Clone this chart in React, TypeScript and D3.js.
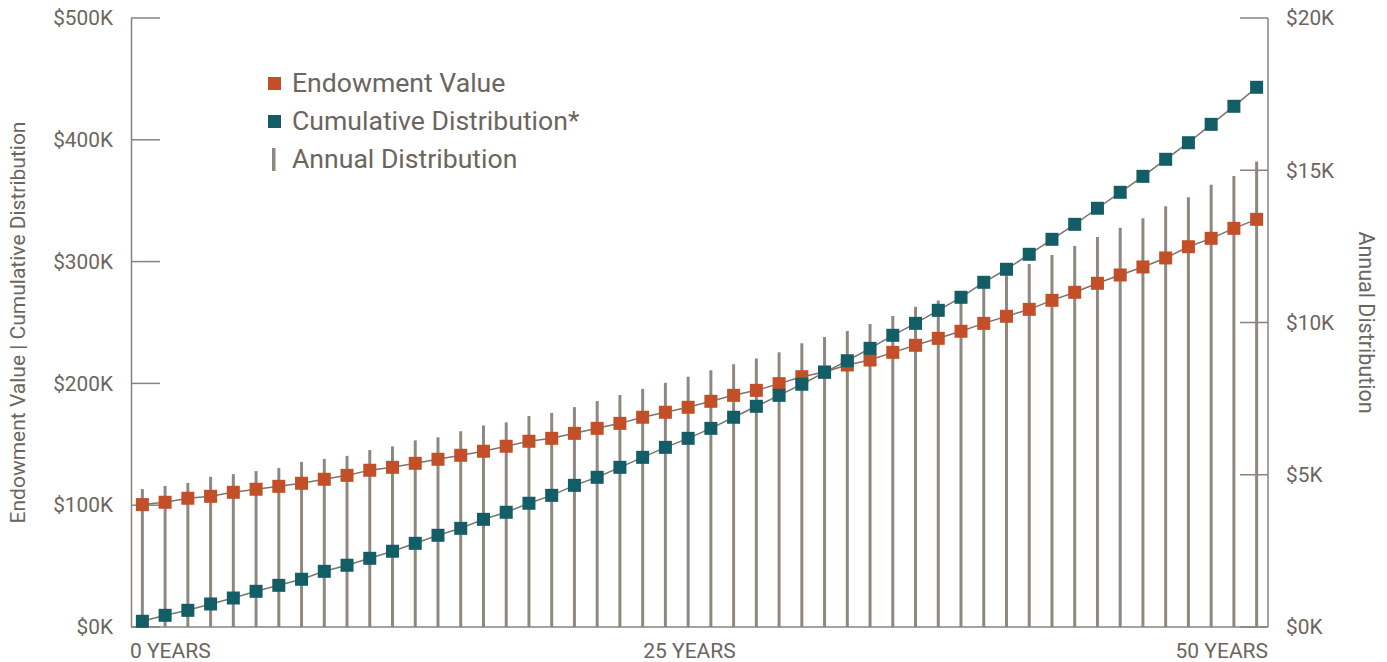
import React from "react";
import * as d3 from "d3";

// values in $K, one per year
const endowmentValue = [
  100.5, 102.4, 105.7, 107.3, 110.6, 113.1, 115.5, 118.0, 121.3, 124.5,
  128.7, 131.1, 134.4, 137.7, 141.0, 144.3, 148.4, 152.5, 154.9, 159.0,
  163.1, 167.2, 172.2, 176.3, 180.4, 185.3, 190.2, 194.3, 199.8, 205.5,
  209.4, 215.1, 219.2, 225.5, 231.3, 237.0, 242.8, 249.3, 255.1, 260.8,
  268.2, 274.8, 282.2, 289.0, 295.6, 303.0, 312.2, 319.1, 327.3, 334.7,
];

const cumulativeDistribution = [
  4.7, 9.6, 13.7, 18.9, 23.8, 29.3, 34.2, 39.2, 45.7, 50.7,
  56.4, 62.2, 68.7, 75.3, 81.0, 88.4, 94.2, 101.6, 108.1, 116.3,
  122.9, 131.1, 139.3, 147.5, 154.9, 163.1, 172.2, 181.2, 190.2, 199.3,
  209.1, 218.6, 228.8, 239.5, 249.3, 260.0, 270.7, 283.0, 293.7, 306.0,
  318.3, 330.6, 343.8, 356.9, 370.0, 384.0, 397.6, 412.7, 427.5, 443.1,
];

const annualDistribution = [
  4.53, 4.63, 4.73, 4.93, 5.02, 5.12, 5.22, 5.42, 5.52, 5.62,
  5.81, 5.93, 6.13, 6.23, 6.43, 6.62, 6.72, 6.93, 7.03, 7.22,
  7.42, 7.62, 7.82, 8.02, 8.22, 8.43, 8.63, 8.82, 9.02, 9.32,
  9.52, 9.72, 9.95, 10.21, 10.52, 10.72, 10.97, 11.23, 11.54, 11.92,
  12.22, 12.51, 12.81, 13.11, 13.42, 13.82, 14.11, 14.52, 14.81, 15.29,
];

const leftTicks = [0, 100, 200, 300, 400, 500];
const rightTicks = [0, 5, 10, 15, 20];
const xLabels = ["0 YEARS", "25 YEARS", "50 YEARS"];

const legendItems = [
  { label: "Endowment Value", kind: "square", color: "#c24f27" },
  { label: "Cumulative Distribution*", kind: "square", color: "#135d66" },
  { label: "Annual Distribution", kind: "bar", color: "#8f8881" },
];

const W = 1387;
const H = 662;
const font = "Roboto, 'Noto Sans', sans-serif";
const textColor = "#6c655e";
const axisColor = "#8a837b";

export default function App() {
  const years = endowmentValue.map((_, i) => i);
  const left = 131;
  const right = 1268;
  const top = 18;
  const bottom = 627;

  const x = d3.scaleBand<number>().domain(years).range([left, right]);
  const cx = (i: number) => (x(i) as number) + x.bandwidth() / 2;
  const yL = d3.scaleLinear().domain([0, 500]).range([bottom, top]);
  const yR = d3.scaleLinear().domain([0, 20]).range([bottom, top]);

  const line = (vals: number[]) =>
    d3
      .line<number>()
      .x((_, i) => cx(i))
      .y((d) => yL(d))(vals) as string;

  const sq = 13;

  return (
    <svg
      width={W}
      height={H}
      style={{ position: "absolute", left: 0, top: 0, fontFamily: font }}
    >
      <rect width={W} height={H} fill="#fff" />

      {/* annual distribution bars (right axis) */}
      {annualDistribution.map((v, i) => (
        <line
          key={"b" + i}
          x1={cx(i)}
          x2={cx(i)}
          y1={yR(0)}
          y2={yR(v)}
          stroke="#8f8881"
          strokeWidth={3}
        />
      ))}

      {/* axes */}
      <line x1={left + 0.5} x2={left + 0.5} y1={top} y2={bottom} stroke={axisColor} strokeWidth={1.5} />
      <line x1={right} x2={right} y1={top} y2={bottom} stroke={axisColor} strokeWidth={1.5} />
      <line x1={left} x2={right} y1={bottom} y2={bottom} stroke={axisColor} strokeWidth={1.5} />
      {leftTicks.map((t) => (
        <g key={"l" + t}>
          <line x1={left} x2={left + 29} y1={yL(t)} y2={yL(t)} stroke={axisColor} strokeWidth={1.5} />
          <text x={113} y={yL(t)} dy="0.35em" textAnchor="end" fontSize={20.8} fill={textColor}>
            ${t}K
          </text>
        </g>
      ))}
      {rightTicks.map((t) => (
        <g key={"r" + t}>
          <line x1={right - 28} x2={right} y1={yR(t)} y2={yR(t)} stroke={axisColor} strokeWidth={1.5} />
          <text x={1286} y={yR(t)} dy="0.35em" textAnchor="start" fontSize={20.8} fill={textColor}>
            ${t}K
          </text>
        </g>
      ))}

      {/* x labels */}
      <text x={left - 1} y={658} fontSize={21} fill={textColor} textAnchor="start">
        {xLabels[0]}
      </text>
      <text x={(left + right) / 2 - 10} y={658} fontSize={21} fill={textColor} textAnchor="middle">
        {xLabels[1]}
      </text>
      <text x={right} y={658} fontSize={21} fill={textColor} textAnchor="end">
        {xLabels[2]}
      </text>

      {/* axis titles */}
      <text
        transform={`translate(25,${(top + bottom) / 2}) rotate(-90)`}
        textAnchor="middle"
        fontSize={21}
        fill={textColor}
      >
        Endowment Value | Cumulative Distribution
      </text>
      <text
        transform={`translate(1359,${(top + bottom) / 2}) rotate(90)`}
        textAnchor="middle"
        fontSize={21.5}
        fill={textColor}
      >
        Annual Distribution
      </text>

      {/* endowment value */}
      <path d={line(endowmentValue)} fill="none" stroke="#7b746c" strokeWidth={1.5} />
      {endowmentValue.map((v, i) => (
        <rect key={"e" + i} x={cx(i) - sq / 2} y={yL(v) - sq / 2} width={sq} height={sq} fill="#c24f27" />
      ))}

      {/* cumulative distribution */}
      <path d={line(cumulativeDistribution)} fill="none" stroke="#7b746c" strokeWidth={1.5} />
      {cumulativeDistribution.map((v, i) => (
        <rect key={"c" + i} x={cx(i) - sq / 2} y={yL(v) - sq / 2} width={sq} height={sq} fill="#135d66" />
      ))}

      {/* legend */}
      {legendItems.map((d, i) => {
        const ly = 83 + i * 38;
        return (
          <g key={d.label}>
            {d.kind === "square" ? (
              <rect x={268} y={ly - 6} width={13} height={13} fill={d.color} />
            ) : (
              <rect x={272} y={ly - 11} width={3.5} height={23} fill={d.color} />
            )}
            <text x={292} y={ly} dy="0.35em" fontSize={26.6} fill={textColor}>
              {d.label}
            </text>
          </g>
        );
      })}
    </svg>
  );
}
